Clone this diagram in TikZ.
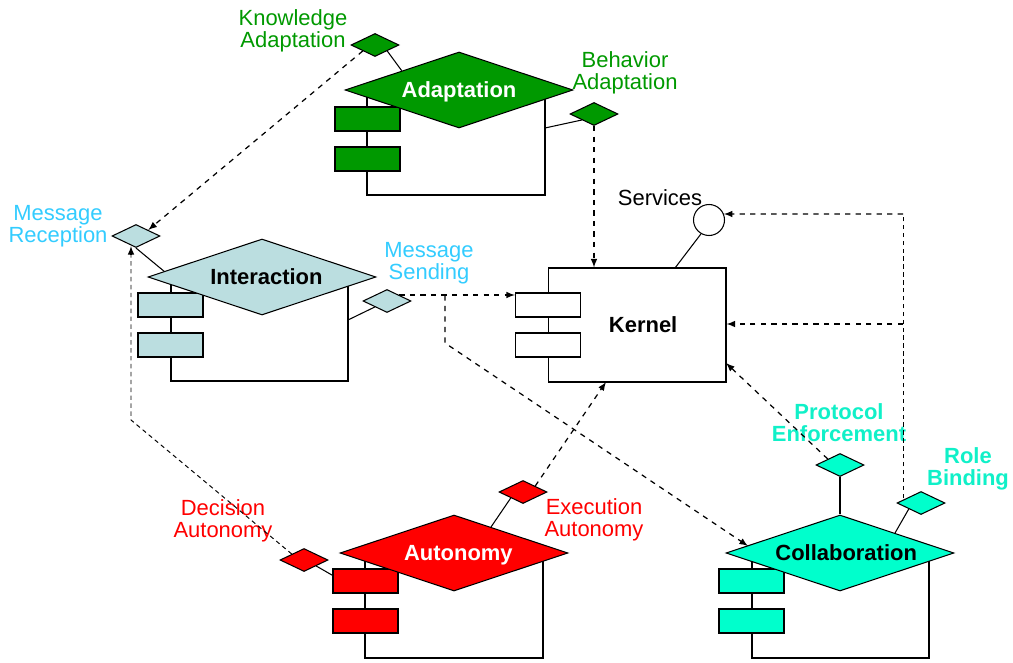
\documentclass[tikz,border=0pt]{standalone}
\usepackage{fontspec}
\setmainfont{Liberation Sans}
\usetikzlibrary{shapes.geometric,arrows,backgrounds}

\definecolor{adgreen}{HTML}{009900}
\definecolor{inblue}{HTML}{BBDEE0}
\definecolor{inlabel}{HTML}{33CCFF}
\definecolor{aured}{HTML}{FF0000}
\definecolor{coaqua}{HTML}{00FFCC}
\definecolor{colabel}{HTML}{10F0C8}

\tikzset{
  compo/.style={diamond,aspect=3,draw,inner sep=0pt,minimum width=4.56cm,minimum height=1.52cm,text height=9pt,text depth=0pt,font=\fontsize{12.5}{12.5}\selectfont\bfseries},
  port/.style={diamond,aspect=3,draw,inner sep=0pt,minimum width=0.96cm,minimum height=0.46cm},
  plug/.style={draw,inner sep=0pt,minimum width=1.3cm,minimum height=0.48cm},
  lbl/.style={align=center,inner sep=0pt},
  dep/.style={dashed,-latex,line width=0.7pt},
  thindep/.style={dash pattern=on 2.5pt off 2pt,line width=0.55pt}
}

\begin{document}
\begin{tikzpicture}[x=0.02cm,y=-0.02cm,line width=0.6pt,font=\fontsize{12.5}{12.5}\selectfont]
\useasboundingbox (0,0) rectangle (1013,662);

% component bodies
\draw[fill=white] (367,90) rectangle (545,195);
\draw[fill=white] (171,277) rectangle (348,381);
\draw[fill=white] (365,553) rectangle (543,658);
\draw[fill=white] (752,553) rectangle (929,658);
\node[draw,fill=white,inner sep=0pt,minimum width=3.56cm,minimum height=2.28cm,text height=9pt,text depth=0pt,font=\fontsize{12.5}{12.5}\selectfont\bfseries] (kernel) at (637,325) {\hspace*{7pt}Kernel};

% ports
\node[port,fill=adgreen] (ka) at (375,45) {};
\node[port,fill=adgreen] (ba) at (594,114) {};
\node[port,fill=inblue] (mr) at (136,236) {};
\node[port,fill=inblue] (ms) at (387,301) {};
\node[port,fill=aured] (da) at (304,560) {};
\node[port,fill=aured] (ea) at (523,492) {};
\node[port,fill=coaqua] (pe) at (840,465) {};
\node[port,fill=coaqua] (rb) at (921,503) {};
\node[draw,circle,fill=white,inner sep=0pt,minimum size=0.62cm] (svc) at (709,220) {};

% stubs
\coordinate (baend) at (545,128);
\coordinate (mrend) at (171,277);
\coordinate (msend) at (348,320);
\coordinate (daend) at (365,594);
\coordinate (eaend) at (491,527);
\coordinate (rbend) at (895,533);
\coordinate (svend) at (675,268);
\draw (ba.south west) -- (baend);
\draw (mr.south) -- (mrend);
\draw (ms.south west) -- (msend);
\draw (da.south east) -- (daend);
\draw (ea.south west) -- (eaend);
\draw (rb.south west) -- (rbend);
\draw (svc.240) -- (svend);

% plugs
\node[plug,fill=adgreen] (ap1) at (367.5,119) {};
\node[plug,fill=adgreen] (ap2) at (367.5,159) {};
\node[plug,fill=inblue] (ip1) at (170.5,305) {};
\node[plug,fill=inblue] (ip2) at (170.5,345) {};
\node[plug,fill=white] (kp1) at (548,305) {};
\node[plug,fill=white] (kp2) at (548,345) {};
\node[plug,fill=aured] (up1) at (365.5,581) {};
\node[plug,fill=aured] (up2) at (365.5,621) {};
\node[plug,fill=coaqua] (cp1) at (751.5,581) {};
\node[plug,fill=coaqua] (cp2) at (751.5,621) {};

% component heads
\node[compo,fill=adgreen,text=white] (adapt) at (459,90) {Adaptation};
\node[compo,fill=inblue] (inter) at (262,277) {\hspace*{5pt}Interaction};
\node[compo,fill=aured,text=white] (auton) at (454,553) {\hspace*{5pt}Autonomy};
\node[compo,fill=coaqua] (collab) at (840,553) {\hspace*{7pt}Collaboration};
\draw (ka.south east) -- (adapt.north west);
\draw (pe.south) -- (collab.north);

% labels
\node[lbl,text=adgreen] (kalbl) at (293,31) {Knowledge\\Adaptation};
\node[lbl,text=adgreen] (balbl) at (625,73) {Behavior\\Adaptation};
\node[lbl,text=inlabel] (mrlbl) at (58,226) {Message\\Reception};
\node[lbl,text=inlabel] (mslbl) at (429,263) {Message\\Sending};
\node[lbl,text=aured] (dalbl) at (223,521) {Decision\\Autonomy};
\node[lbl,text=aured] (ealbl) at (594,520) {Execution\\Autonomy};
\node[lbl,text=colabel,font=\fontsize{12.5}{12.5}\selectfont\bfseries] (pelbl) at (839,423) {Protocol\\Enforcement};
\node[lbl,text=colabel,font=\fontsize{12.5}{12.5}\selectfont\bfseries] (rblbl) at (968,469) {Role\\Binding};
\node[lbl] (svlbl) at (660,198) {Services};

% dependencies
\coordinate (ms1) at (445,295.25);
\coordinate (ms2) at (445,343);
\coordinate (cin) at (748,546);
\coordinate (kbot) at (606,382);
\coordinate (kright) at (726,363);
\coordinate (rbtop) at (903,498);
\coordinate (rbs) at (903,214);
\coordinate (rbk) at (903,324);
\coordinate (dabend) at (131,420);
\coordinate (mrbot) at (131,246);
\coordinate (mrtip) at (131,254);

\draw[dep] (ka.south west) -- (mr.north east);
\draw[dep] (ba.south) -- (ba.south |- kernel.north);
\draw[dep] (ms.north east) -- (ms.north east -| kp1.west);
\draw[dep] (ms1) -- (ms2) -- (cin);
\draw[dep] (ea.north east) -- (kbot);
\draw[dep] (pe.north west) -- (kright);
\draw[thindep] (rbtop) -- (rbs);
\draw[dep] (rbs) -- (svc.22);
\draw[dep] (rbk) -- (rbk -| kernel.east);
\draw[thindep] (da.north west) -- (dabend) -- (mrtip);
\draw[dep,solid] (mrtip) -- (mrbot);
\end{tikzpicture}
\end{document}
